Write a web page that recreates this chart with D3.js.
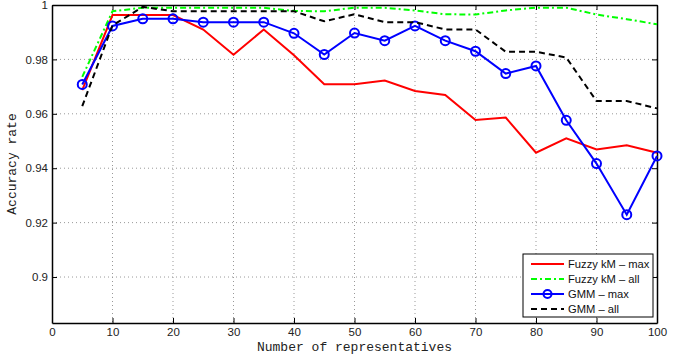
<!DOCTYPE html>
<html>
<head>
<meta charset="utf-8">
<script src="https://d3js.org/d3.v7.min.js"></script>
<style>
  body { margin: 0; background: #fff; }
  .tick text { font-family: "Liberation Sans", Arial, sans-serif; font-size: 11.5px; fill: #222; }
  .axis-label { font-family: "Liberation Mono", "Courier New", monospace; font-size: 13px; fill: #222; }
  .grid line { stroke: #999; stroke-dasharray: 1,3; stroke-width: 1px; }
  .legend text { font-family: "Liberation Sans", Arial, sans-serif; font-size: 11.2px; fill: #111; }
</style>
</head>
<body>
<div id="chart"></div>
<script>
// x values (number of representatives)
var reps = [5, 10, 15, 20, 25, 30, 35, 40, 45, 50, 55, 60, 65, 70, 75, 80, 85, 90, 95, 100];

var fuzzyMax = [0.9687, 0.9963, 0.9963, 0.9963, 0.991, 0.9817, 0.991, 0.9815, 0.9709, 0.9709,
                0.9722, 0.9684, 0.9669, 0.9577, 0.9586, 0.9457, 0.951, 0.9469, 0.9484, 0.9457];
var fuzzyAll = [0.9736, 0.9977, 0.999, 0.999, 0.999, 0.999, 0.999, 0.9978, 0.9977, 0.999,
                0.999, 0.998, 0.9966, 0.9965, 0.998, 0.999, 0.999, 0.9965, 0.9948, 0.9929];
var gmmMax = [0.9708, 0.9923, 0.9949, 0.9949, 0.9937, 0.9937, 0.9937, 0.9896, 0.9818, 0.9897,
              0.9869, 0.9923, 0.9869, 0.983, 0.9748, 0.9776, 0.9576, 0.9417, 0.9229, 0.9445];
var gmmAll = [0.9628, 0.9925, 0.9993, 0.9977, 0.9977, 0.9977, 0.9977, 0.9977, 0.994, 0.9966,
              0.9937, 0.9937, 0.991, 0.991, 0.9828, 0.9828, 0.9807, 0.9647, 0.9647, 0.962];

var xTicks = [0, 10, 20, 30, 40, 50, 60, 70, 80, 90, 100];
var yTicks = [0.9, 0.92, 0.94, 0.96, 0.98, 1];

var series = [
  { name: "Fuzzy kM \u2013 max", values: fuzzyMax, color: "#ff0000", dash: null, marker: false },
  { name: "Fuzzy kM \u2013 all", values: fuzzyAll, color: "#00ff00", dash: "6,3,2,3", marker: false },
  { name: "GMM \u2013 max", values: gmmMax, color: "#0000ff", dash: null, marker: true },
  { name: "GMM \u2013 all", values: gmmAll, color: "#000000", dash: "6,4", marker: false }
];

var W = 690, H = 360;
var margin = { top: 5, right: 33, bottom: 37, left: 52 };
var width = W - margin.left - margin.right;
var height = H - margin.top - margin.bottom;

var svg = d3.select("#chart").append("svg")
  .attr("width", W).attr("height", H);
var g = svg.append("g")
  .attr("transform", "translate(" + margin.left + "," + margin.top + ")");

var x = d3.scaleLinear().domain([0, 100]).range([0, width]);
var y = d3.scaleLinear().domain([0.8831, 1]).range([height, 0]);

// grid
g.append("g").attr("class", "grid")
  .selectAll("line.v").data(xTicks.slice(1, -1)).enter().append("line")
  .attr("x1", function(d) { return x(d); }).attr("x2", function(d) { return x(d); })
  .attr("y1", 0).attr("y2", height);
g.append("g").attr("class", "grid")
  .selectAll("line.h").data(yTicks.slice(0, -1)).enter().append("line")
  .attr("x1", 0).attr("x2", width)
  .attr("y1", function(d) { return y(d); }).attr("y2", function(d) { return y(d); });

// axes (ticks inward, mirrored on top/right)
var xAxis = g.append("g").attr("transform", "translate(0," + height + ")")
  .call(d3.axisBottom(x).tickValues(xTicks).tickSize(-5).tickPadding(4).tickSizeOuter(0));
var yAxis = g.append("g")
  .call(d3.axisLeft(y).tickValues(yTicks).tickSize(-5).tickPadding(4).tickSizeOuter(0)
    .tickFormat(function(d) { return d3.format("")(+d.toFixed(2)); }));
var xTop = g.append("g")
  .call(d3.axisTop(x).tickValues(xTicks).tickSize(-5).tickSizeOuter(0).tickFormat(""));
var yRight = g.append("g").attr("transform", "translate(" + width + ",0)")
  .call(d3.axisRight(y).tickValues(yTicks).tickSize(-5).tickSizeOuter(0).tickFormat(""));
[xAxis, yAxis, xTop, yRight].forEach(function(a) {
  a.select(".domain").attr("stroke", "#000").attr("stroke-width", 1.5);
  a.selectAll(".tick line").attr("stroke", "#000");
});
// bottom tick labels sit a bit below the inward ticks
xAxis.selectAll(".tick text").attr("y", 5);

// lines
var line = d3.line()
  .x(function(d, i) { return x(reps[i]); })
  .y(function(d) { return y(d); });

series.forEach(function(s) {
  g.append("path")
    .datum(s.values)
    .attr("fill", "none")
    .attr("stroke", s.color)
    .attr("stroke-width", 2)
    .attr("stroke-dasharray", s.dash)
    .attr("d", line);
  if (s.marker) {
    g.selectAll(null).data(s.values).enter().append("circle")
      .attr("cx", function(d, i) { return x(reps[i]); })
      .attr("cy", function(d) { return y(d); })
      .attr("r", 4.5)
      .attr("fill", "none")
      .attr("stroke", s.color)
      .attr("stroke-width", 2);
  }
});

// axis labels
g.append("text").attr("class", "axis-label")
  .attr("text-anchor", "middle")
  .attr("x", width / 2).attr("y", height + 28)
  .text("Number of representatives");
g.append("text").attr("class", "axis-label")
  .attr("text-anchor", "middle")
  .attr("transform", "translate(" + (-36) + "," + (height / 2) + ") rotate(-90)")
  .text("Accuracy rate");

// legend
var lg = svg.append("g").attr("class", "legend").attr("transform", "translate(523,254)");
lg.append("rect").attr("width", 130).attr("height", 63)
  .attr("fill", "#fff").attr("stroke", "#000").attr("stroke-width", 1);
series.forEach(function(s, i) {
  var yy = 10 + i * 15;
  lg.append("line")
    .attr("x1", 8).attr("x2", 41).attr("y1", yy).attr("y2", yy)
    .attr("stroke", s.color).attr("stroke-width", 2)
    .attr("stroke-dasharray", s.dash);
  if (s.marker) {
    lg.append("circle").attr("cx", 24.5).attr("cy", yy).attr("r", 4)
      .attr("fill", "none").attr("stroke", s.color).attr("stroke-width", 2);
  }
  lg.append("text").attr("x", 45).attr("y", yy + 4).text(s.name);
});
</script>
</body>
</html>
